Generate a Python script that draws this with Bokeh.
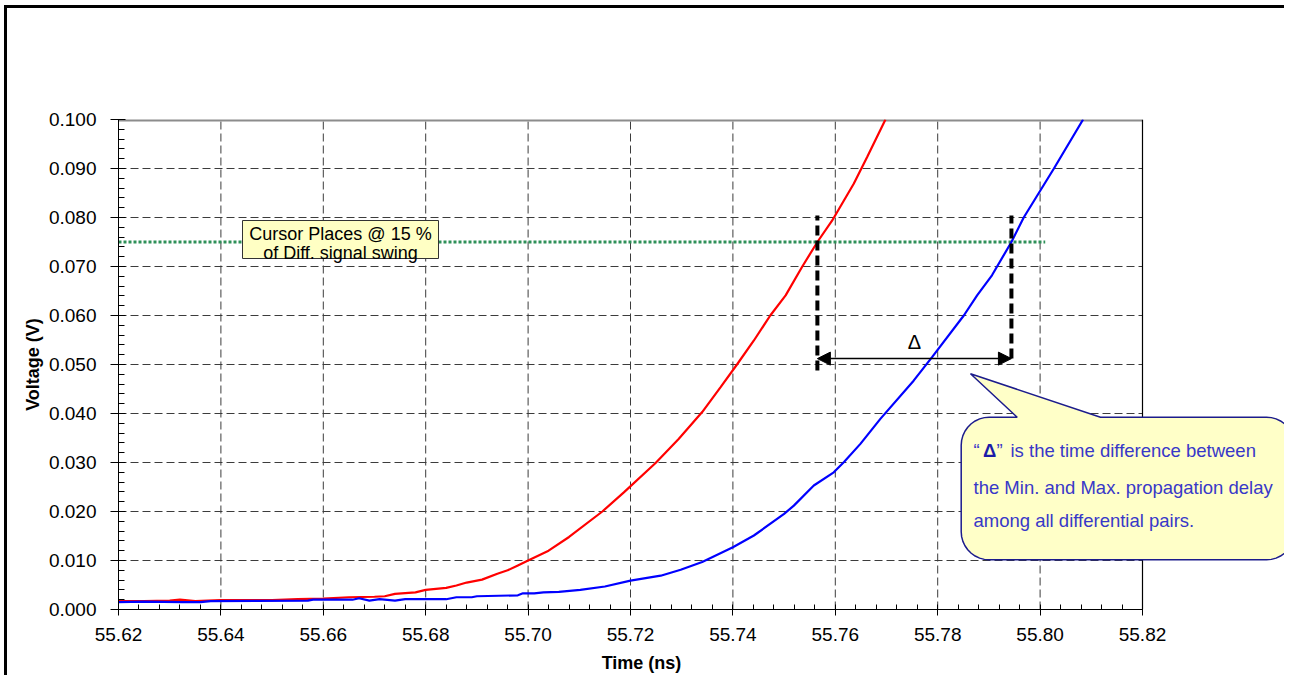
import numpy as np
from bokeh.plotting import figure
from bokeh.models import (Range1d, FixedTicker, PrintfTickFormatter, BoxAnnotation,
                          Label, Arrow, NormalHead, PolyAnnotation)
from bokeh.embed import file_html
from bokeh.resources import INLINE

# ---------------- data ----------------
red_t = [55.620, 55.625, 55.630, 55.632, 55.635, 55.640, 55.650, 55.655, 55.660, 55.665,
         55.670, 55.672, 55.674, 55.678, 55.680, 55.684, 55.686, 55.688, 55.691, 55.694,
         55.696, 55.698, 55.700, 55.704, 55.708, 55.7145, 55.7187, 55.7249, 55.7294, 55.734,
         55.7376, 55.7408, 55.7441, 55.7473, 55.7503, 55.7535, 55.7565, 55.7594, 55.7636,
         55.7662, 55.7698]
red_v = [0.0017, 0.0017, 0.0018, 0.0020, 0.0017, 0.0019, 0.0019, 0.0021, 0.0022, 0.0025,
         0.0026, 0.0027, 0.0032, 0.0035, 0.0040, 0.0044, 0.0049, 0.0055, 0.0061, 0.0073,
         0.0080, 0.0090, 0.0100, 0.0120, 0.0148, 0.0200, 0.0239, 0.0299, 0.0348, 0.0403,
         0.0454, 0.0500, 0.0549, 0.0600, 0.0641, 0.0699, 0.0750, 0.0794, 0.0869,
         0.0923, 0.1000]

blue_t = [55.620, 55.625, 55.6325, 55.636, 55.638, 55.657, 55.658, 55.6657, 55.667, 55.669,
          55.671, 55.674, 55.676, 55.684, 55.686, 55.689, 55.690, 55.698, 55.699, 55.7012,
          55.703, 55.706, 55.7102, 55.715, 55.720, 55.7259, 55.7298, 55.734, 55.740, 55.7441,
          55.750, 55.7519, 55.7558, 55.7597, 55.7617, 55.7649, 55.7688, 55.7753, 55.7789,
          55.7851, 55.7877, 55.7906, 55.7944, 55.7968, 55.8027, 55.8084]
blue_v = [0.0015, 0.0016, 0.0015, 0.0015, 0.0017, 0.0018, 0.0020, 0.0020, 0.0023, 0.0018,
          0.0021, 0.0018, 0.0021, 0.0021, 0.0025, 0.0025, 0.0027, 0.0029, 0.0033, 0.0033,
          0.0035, 0.0036, 0.0040, 0.0047, 0.0059, 0.0069, 0.0081, 0.0097, 0.0127, 0.0151,
          0.0195, 0.0212, 0.0253, 0.0280, 0.0301, 0.0338, 0.0389, 0.0467, 0.0515,
          0.0600, 0.0641, 0.0682, 0.0750, 0.0800, 0.0900, 0.1000]

x_ticks = [55.62, 55.64, 55.66, 55.68, 55.70, 55.72, 55.74, 55.76, 55.78, 55.80, 55.82]
y_ticks = [0.000, 0.010, 0.020, 0.030, 0.040, 0.050, 0.060, 0.070, 0.080, 0.090, 0.100]

cursor_level = 0.075                 # 15 % of diff. signal swing
cursor_span = [55.62, 55.801]
marker_t = [55.7565, 55.7944]        # crossing times (min / max delay)
marker_top = [0.0804, 0.0804]
marker_bottom = [0.0488, 0.0512]
delta_level = 0.0512

cursor_text = ["Cursor Places @ 15 %", "of Diff. signal swing"]
callout_line1 = ["\u201c", "\u0394", "\u201d", "is the time difference between"]
callout_text = ["the Min. and Max. propagation delay", "among all differential pairs."]

FONT = "Liberation Sans"

X0, X1 = x_ticks[0], x_ticks[-1]
Y0, Y1 = y_ticks[0], y_ticks[-1]

# page-pixel -> data helpers for annotation placement
XPX0, XPX1, YPX0, YPX1 = 118.0, 1142.0, 609.0, 119.0
def fx(px):
    return X0 + (px - XPX0) / (XPX1 - XPX0) * (X1 - X0)
def fy(py):
    return Y0 + (YPX0 - py) / (YPX0 - YPX1) * (Y1 - Y0)

# frame extends past 55.82 so the callout bubble can overhang the plot border
p = figure(frame_width=1166, frame_height=490, output_backend="svg", toolbar_location=None,
           x_range=Range1d(X0, fx(1284)), y_range=Range1d(Y0, Y1),
           min_border_left=118, min_border_top=119, min_border_right=0, min_border_bottom=30)
p.background_fill_color = "white"
p.border_fill_color = "white"
p.border_fill_alpha = 0.0
p.outline_line_color = None
# outer chart-area frame (left + top edges), painted by the host element behind the canvas
p.styles = {"background-color": "white",
            "box-shadow": "inset 4px 5px 0px 0px white, inset 7px 8px 0px 0px black"}

xt = FixedTicker(ticks=x_ticks, minor_ticks=list(np.round(np.arange(55.62, 55.8201, 0.004), 4)))
yt = FixedTicker(ticks=y_ticks, minor_ticks=list(np.round(np.arange(0, 0.10001, 0.002), 4)))
p.xaxis.ticker = xt
p.yaxis.ticker = yt
p.xaxis.bounds = (X0, X1)
p.xaxis.formatter = PrintfTickFormatter(format="%.2f")
p.yaxis.formatter = PrintfTickFormatter(format="%.3f")
p.xgrid.visible = False
p.ygrid.visible = False

for ax in (p.xaxis, p.yaxis):
    ax.axis_line_color = "black"
    ax.major_tick_line_color = "black"
    ax.minor_tick_line_color = "black"
    ax.major_label_text_font = FONT
    ax.major_label_text_font_size = "19px"
    ax.major_label_text_color = "black"
    ax.axis_label_text_font = FONT
    ax.axis_label_text_font_size = "18px"
    ax.axis_label_text_font_style = "bold"
    ax.axis_label_text_color = "black"

# label is centred on the (wider) frame: pad with no-break spaces so that the visible
# text sits centred under the 55.62..55.82 plot area
p.xaxis.axis_label = "Time (ns)" + "\u00a0" * 24
p.xaxis.major_tick_in = 4
p.xaxis.major_tick_out = 6
p.xaxis.minor_tick_in = 5
p.xaxis.minor_tick_out = 0
p.xaxis.major_label_standoff = 12
p.xaxis.axis_label_standoff = 9

p.yaxis.axis_label = "Voltage (V)"
p.yaxis.major_tick_in = 7
p.yaxis.major_tick_out = 8
p.yaxis.minor_tick_in = 6
p.yaxis.minor_tick_out = 0
p.yaxis.major_label_standoff = 14
p.yaxis.axis_label_standoff = 3

# dashed grid limited to the plot area (55.62 .. 55.82)
gx = x_ticks[1:-1]
gy = y_ticks[1:-1]
p.segment(x0=gx, x1=gx, y0=[Y0] * len(gx), y1=[Y1] * len(gx),
          line_color="#3c3c3c", line_width=1, line_dash="8 4")
p.segment(x0=[X0] * len(gy), x1=[X1] * len(gy), y0=gy, y1=gy,
          line_color="#3c3c3c", line_width=1, line_dash="8 4")
# plot-area border: grey top, black right
p.segment(x0=[X0], x1=[X1], y0=[Y1], y1=[Y1], line_color="#8c8c8c", line_width=4)
p.segment(x0=[X1], x1=[X1], y0=[Y0], y1=[Y1], line_color="black", line_width=1.2)

# cursor level (green dotted)
p.segment(x0=[cursor_span[0]], x1=[cursor_span[1]], y0=[cursor_level], y1=[cursor_level],
          line_color="#2e9058", line_width=3, line_dash="3 2")

# waveforms
p.line(red_t, red_v, line_color="#ff0000", line_width=2.2)
p.line(blue_t, blue_v, line_color="#0000ff", line_width=2.2)

# crossing markers
p.segment(x0=marker_t, x1=marker_t, y0=marker_bottom, y1=marker_top,
          line_color="black", line_width=4, line_dash="10 5")

# delta arrow
p.add_layout(Arrow(x_start=marker_t[0], y_start=delta_level, x_end=marker_t[1], y_end=delta_level,
                   line_color="black", line_width=1.5,
                   start=NormalHead(size=13, fill_color="black", line_color="black"),
                   end=NormalHead(size=13, fill_color="black", line_color="black")))
p.add_layout(Label(x=(marker_t[0] + marker_t[1]) / 2, y=delta_level + 0.0012, text="\u0394",
                   text_align="center", text_baseline="bottom", text_font=FONT,
                   text_font_size="20px", text_color="black"))

# cursor label box
p.add_layout(BoxAnnotation(left=fx(242), right=fx(438), top=fy(220), bottom=fy(258),
                           fill_color="#ffffc4", fill_alpha=1.0, line_color="#333333",
                           line_alpha=1.0, line_width=1))
for i, t in enumerate(cursor_text):
    p.add_layout(Label(x=fx(340), y=fy(233 + 19.5 * i), text=t, text_align="center",
                       text_baseline="middle", text_font=FONT, text_font_size="18px",
                       text_color="black"))

# speech-bubble callout
def callout(l, r, t, b, rad, tip, bl, br, n=10):
    xs, ys = [], []
    def arc(cx, cy, a0, a1):
        for a in np.linspace(np.radians(a0), np.radians(a1), n):
            xs.append(cx + rad * np.cos(a)); ys.append(cy + rad * np.sin(a))
    arc(l + rad, t + rad, 180, 270)
    xs += [bl, tip[0], br]; ys += [t, tip[1], t]
    arc(r - rad, t + rad, 270, 360)
    arc(r - rad, b - rad, 0, 90)
    arc(l + rad, b - rad, 90, 180)
    return [fx(v) for v in xs], [fy(v) for v in ys]

cxs, cys = callout(960.7, 1294, 416.7, 559.3, 28, (970, 373.3), 1016.7, 1100)
p.add_layout(PolyAnnotation(xs=cxs, ys=cys, fill_color="#ffffc8", fill_alpha=1.0,
                            line_color="#1c1c8c", line_alpha=1.0, line_width=1.5))
BLUE_TXT = "#3838c8"
for t, xx, bold, col in zip(callout_line1, [973, 982.5, 996, 1010],
                            [False, True, False, False],
                            [BLUE_TXT, "#1c1ca8", BLUE_TXT, BLUE_TXT]):
    p.add_layout(Label(x=fx(xx), y=fy(450), text=t, text_align="left", text_baseline="middle",
                       text_font=FONT, text_font_size="18.5px", text_color=col,
                       text_font_style="bold" if bold else "normal"))
for t, yy in zip(callout_text, [486.5, 519.5]):
    p.add_layout(Label(x=fx(973), y=fy(yy), text=t, text_align="left", text_baseline="middle",
                       text_font=FONT, text_font_size="18.5px", text_color=BLUE_TXT))

open("out.html", "w").write(file_html(p, INLINE))
